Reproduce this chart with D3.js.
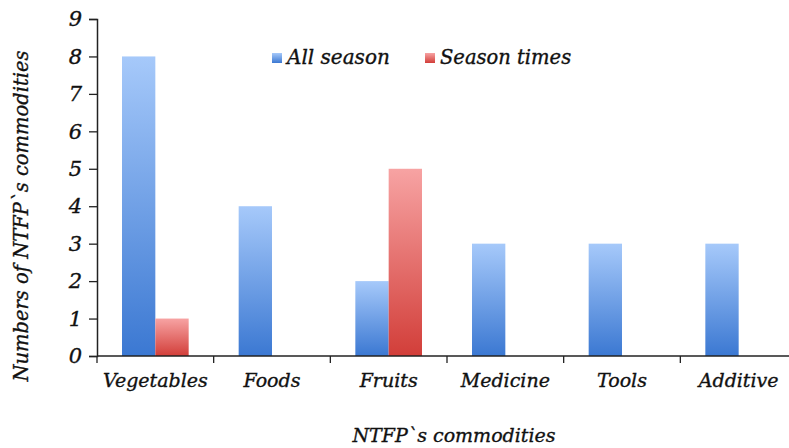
<!DOCTYPE html>
<html><head><meta charset="utf-8">
<script src="https://cdn.jsdelivr.net/npm/d3@7/dist/d3.min.js"></script>
<style>
body{margin:0;background:#fff;}
svg{display:block;}
text{font-family:"DejaVu Serif",serif;font-style:italic;fill:#111;stroke:#111;stroke-width:0.35px;}
</style></head><body>
<svg id="c" width="789" height="448"></svg>
<script>
const categories = ["Vegetables","Foods","Fruits","Medicine","Tools","Additive"];
const allSeason = [8,4,2,3,3,3];
const seasonTimes = [1,0,5,0,0,0];
const seriesNames = ["All season","Season times"];
const yTicks = [0,1,2,3,4,5,6,7,8,9];

const svg = d3.select("#c");
const m = {l:97, t:19, r:-8, b:92};
const W = 789 - m.l - m.r, H = 448 - m.t - m.b;

const defs = svg.append("defs");
const gb = defs.append("linearGradient").attr("id","gBlue").attr("x1",0).attr("y1",0).attr("x2",0).attr("y2",1);
gb.append("stop").attr("offset","0%").attr("stop-color","#a6c9fa");
gb.append("stop").attr("offset","100%").attr("stop-color","#3b78d2");
const gr = defs.append("linearGradient").attr("id","gRed").attr("x1",0).attr("y1",0).attr("x2",0).attr("y2",1);
gr.append("stop").attr("offset","0%").attr("stop-color","#f7a3a3");
gr.append("stop").attr("offset","100%").attr("stop-color","#d23e39");

const g = svg.append("g").attr("transform",`translate(${m.l},${m.t})`);
const x = d3.scaleBand().domain(categories).range([0,W]).paddingInner(0).paddingOuter(0);
const x1 = d3.scaleBand().domain(seriesNames).range([0,x.bandwidth()]).paddingInner(0).paddingOuter(0.75);
const y = d3.scaleLinear().domain([0,9]).range([H,0]);

const data = categories.map((c,i)=>({c, vals:[allSeason[i], seasonTimes[i]]}));
const fills = ["url(#gBlue)","url(#gRed)"];
const grp = g.selectAll(".cat").data(data).join("g").attr("transform",d=>`translate(${x(d.c)},0)`);
grp.selectAll("rect").data(d=>d.vals.map((v,j)=>({v,j}))).join("rect")
  .filter(d=>d.v>0)
  .attr("x",d=>x1(seriesNames[d.j]))
  .attr("width",x1.bandwidth())
  .attr("y",d=>y(d.v)).attr("height",d=>H-y(d.v))
  .attr("fill",d=>fills[d.j]);

// y axis
const ya = g.append("g").call(d3.axisLeft(y).tickValues(yTicks).tickSize(8).tickPadding(7).tickFormat(d3.format("d")));
ya.select(".domain").attr("stroke","#222").attr("stroke-width",1.5);
ya.selectAll(".tick line").attr("stroke","#222").attr("stroke-width",1.3);
ya.selectAll("text").style("font-size","21px").style("font-family","'DejaVu Serif',serif").style("font-style","italic").attr("fill","#111");

// x axis
const xs = d3.scaleLinear().domain([0,categories.length]).range([0,W]);
const xa = g.append("g").attr("transform",`translate(0,${H})`);
xa.append("line").attr("x1",0).attr("x2",W).attr("stroke","#222").attr("stroke-width",1.5);
xa.selectAll(".tk").data(d3.range(0,categories.length+1)).join("line")
  .attr("x1",d=>xs(d)).attr("x2",d=>xs(d)).attr("y1",0).attr("y2",7).attr("stroke","#222").attr("stroke-width",1.3);
xa.selectAll(".lb").data(categories).join("text")
  .attr("x",d=>x(d)+x.bandwidth()/2).attr("y",31)
  .attr("text-anchor","middle").style("font-size","19px").text(d=>d);

// axis titles
svg.append("text").attr("x",454).attr("y",442).attr("text-anchor","middle").style("font-size","19px").text("NTFP`s commodities");
svg.append("text").attr("transform",`translate(28,216) rotate(-90)`).attr("text-anchor","middle").style("font-size","19.5px").text("Numbers of NTFP`s commodities");

// legend
const leg = svg.append("g");
const lx = [272, 425];
seriesNames.forEach((s,i)=>{
  leg.append("rect").attr("x",lx[i]).attr("y",53).attr("width",10).attr("height",10).attr("fill",fills[i]);
  leg.append("text").attr("x",lx[i]+15).attr("y",64).style("font-size",i===0?"20px":"19.5px").text(s);
});
</script></body></html>
